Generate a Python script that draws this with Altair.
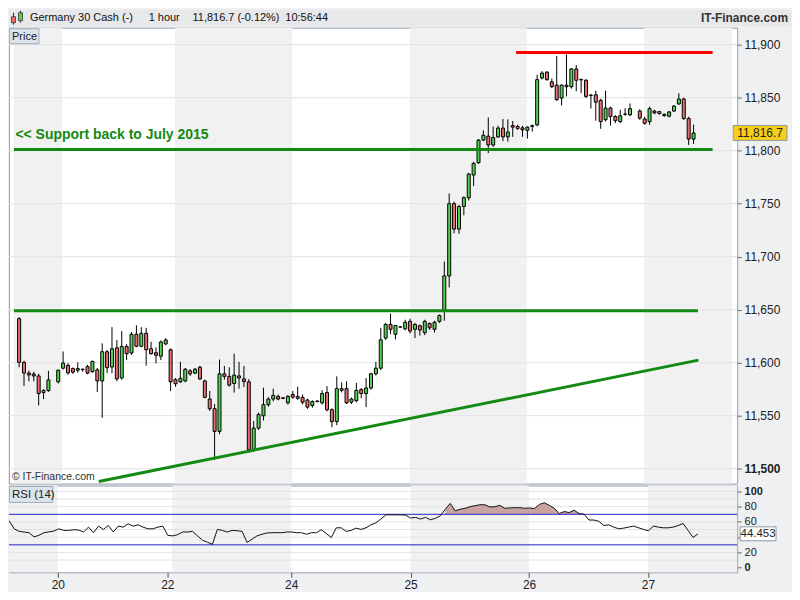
import altair as alt
import pandas as pd

# ---------------- data ----------------
# hourly candle slots; slots 7 and 126 are empty (session break)
hour_idx = [0, 1, 2, 3, 4, 5, 6] + list(range(8, 126)) + list(range(127, 139))

open_ = [
    11641.5, 11600.3, 11590.2, 11589.3, 11587.5, 11571.9, 11573.7, 11581.9, 11594.8, 11597.5,
    11594.4, 11592.9, 11593.5, 11596.3, 11591.6, 11593.2, 11582.8, 11610.3, 11595.9, 11614.0,
    11585.6, 11615.2, 11609.1, 11626.8, 11615.5, 11627.7, 11613.1, 11609.4, 11606.1, 11617.7,
    11612.2, 11584.0, 11582.0, 11582.8, 11592.3, 11590.2, 11595.7, 11582.8, 11565.7, 11556.6,
    11535.2, 11589.5, 11587.1, 11580.4, 11587.5, 11584.7, 11581.9, 11518.2, 11538.3, 11549.9,
    11560.4, 11565.7, 11568.2, 11566.4, 11562.1, 11570.0, 11568.2, 11567.3, 11564.8, 11559.6,
    11563.4, 11562.1, 11571.8, 11555.6, 11544.4, 11573.9, 11575.5, 11562.8, 11564.2, 11574.6,
    11570.9, 11576.1, 11589.5, 11594.8, 11623.2, 11636.1, 11626.8, 11633.6, 11631.9, 11639.0,
    11631.5, 11634.8, 11628.3, 11636.9, 11631.5, 11639.0, 11648.8, 11681.8, 11750.0, 11726.0,
    11747.3, 11755.6, 11777.0, 11788.6, 11810.0, 11813.7, 11805.4, 11813.0, 11821.3, 11813.0,
    11823.7, 11822.8, 11821.5, 11819.2, 11822.8, 11824.3, 11868.6, 11874.1, 11864.9, 11861.8,
    11849.6, 11861.8, 11860.3, 11877.1, 11867.2, 11866.4, 11852.0, 11852.7, 11847.5, 11829.2,
    11840.2, 11832.2, 11827.4, 11834.3, 11833.8, 11837.4, 11829.8, 11827.4, 11837.4, 11836.8,
    11833.1, 11832.5, 11837.4, 11844.1, 11848.7, 11830.4, 11810.9,
]
high_ = [
    11643.0, 11601.7, 11592.6, 11591.5, 11589.5, 11575.0, 11592.3, 11593.5, 11610.6, 11599.5,
    11595.5, 11600.3, 11594.5, 11598.0, 11602.0, 11595.0, 11618.2, 11612.0, 11633.5, 11621.3,
    11629.8, 11617.5, 11629.0, 11635.3, 11633.5, 11632.9, 11619.8, 11614.5, 11621.0, 11623.2,
    11613.5, 11585.5, 11600.8, 11595.0, 11594.0, 11595.0, 11597.0, 11584.0, 11573.3, 11561.1,
    11603.0, 11596.9, 11595.7, 11608.5, 11600.8, 11596.9, 11584.5, 11545.0, 11553.0, 11576.4,
    11567.5, 11575.5, 11570.0, 11567.5, 11569.5, 11573.3, 11577.4, 11570.0, 11566.0, 11564.5,
    11564.5, 11574.0, 11577.9, 11557.0, 11587.1, 11581.5, 11582.5, 11567.0, 11581.0, 11576.0,
    11585.5, 11590.5, 11600.8, 11632.9, 11637.5, 11646.3, 11635.5, 11634.5, 11640.5, 11641.5,
    11637.5, 11636.0, 11640.5, 11638.0, 11639.5, 11645.5, 11695.5, 11759.6, 11752.0, 11749.0,
    11757.0, 11779.0, 11789.5, 11811.0, 11819.1, 11831.3, 11822.8, 11823.5, 11829.8, 11829.5,
    11828.0, 11824.5, 11823.5, 11823.0, 11824.5, 11871.6, 11875.0, 11875.0, 11868.0, 11889.3,
    11862.5, 11890.8, 11878.0, 11880.8, 11868.0, 11867.5, 11853.5, 11856.5, 11849.0, 11856.7,
    11841.5, 11833.5, 11838.5, 11840.0, 11844.5, 11839.0, 11832.0, 11841.5, 11838.5, 11837.5,
    11835.0, 11837.5, 11843.0, 11854.2, 11850.0, 11832.0, 11824.6,
]
low_ = [
    11595.7, 11577.9, 11582.5, 11582.5, 11559.6, 11565.7, 11572.5, 11580.4, 11593.5, 11588.5,
    11589.5, 11590.5, 11591.5, 11589.0, 11590.5, 11572.4, 11548.0, 11590.2, 11590.0, 11582.5,
    11584.0, 11602.4, 11607.5, 11614.5, 11614.5, 11597.2, 11607.5, 11599.3, 11602.4, 11616.5,
    11573.3, 11577.4, 11581.0, 11581.5, 11587.5, 11589.0, 11583.5, 11566.5, 11554.5, 11508.3,
    11532.5, 11584.0, 11577.5, 11571.8, 11575.5, 11577.0, 11515.5, 11516.0, 11536.5, 11545.5,
    11558.5, 11563.5, 11564.5, 11565.5, 11560.5, 11566.0, 11565.0, 11560.5, 11556.5, 11557.5,
    11562.5, 11560.5, 11554.0, 11539.2, 11541.0, 11572.0, 11561.0, 11561.0, 11562.5, 11566.5,
    11558.1, 11574.5, 11588.0, 11593.0, 11621.5, 11626.8, 11622.0, 11633.0, 11630.5, 11627.5,
    11623.2, 11625.5, 11626.0, 11631.0, 11628.5, 11637.5, 11639.6, 11671.0, 11722.1, 11721.5,
    11739.0, 11753.0, 11766.6, 11787.5, 11809.0, 11797.7, 11803.5, 11812.0, 11809.0, 11808.5,
    11813.0, 11819.5, 11813.0, 11811.4, 11818.0, 11823.0, 11867.0, 11866.0, 11859.0, 11847.0,
    11842.6, 11851.2, 11858.5, 11856.0, 11854.2, 11849.5, 11839.8, 11828.3, 11820.6, 11827.5,
    11823.7, 11826.0, 11826.0, 11833.0, 11832.5, 11829.0, 11824.5, 11824.5, 11834.5, 11834.0,
    11832.0, 11831.5, 11836.5, 11843.0, 11829.0, 11805.4, 11806.3,
]
close_ = [
    11600.3, 11590.2, 11588.4, 11587.5, 11570.9, 11573.7, 11583.8, 11592.9, 11599.6, 11590.4,
    11591.1, 11594.4, 11593.8, 11590.2, 11601.2, 11582.8, 11610.3, 11595.3, 11613.1, 11584.7,
    11615.2, 11608.5, 11626.8, 11615.5, 11627.7, 11612.2, 11608.5, 11607.0, 11619.5, 11621.4,
    11582.0, 11580.1, 11585.2, 11593.8, 11589.5, 11593.8, 11584.7, 11567.3, 11556.6, 11535.2,
    11589.5, 11587.1, 11578.8, 11588.3, 11585.6, 11582.2, 11517.8, 11538.3, 11551.1, 11560.4,
    11565.7, 11569.1, 11565.7, 11566.8, 11568.2, 11567.5, 11566.4, 11562.7, 11558.1, 11563.3,
    11563.8, 11570.9, 11555.6, 11544.4, 11575.5, 11575.5, 11562.1, 11565.7, 11573.9, 11570.9,
    11576.1, 11589.5, 11594.8, 11621.6, 11636.1, 11631.5, 11635.1, 11633.8, 11638.1, 11629.8,
    11636.1, 11630.8, 11639.0, 11632.9, 11638.1, 11644.5, 11681.8, 11750.0, 11726.0, 11747.3,
    11755.6, 11777.9, 11788.0, 11810.0, 11814.6, 11805.4, 11812.4, 11821.3, 11813.0, 11817.6,
    11822.2, 11821.0, 11819.7, 11822.2, 11823.7, 11867.0, 11873.2, 11867.0, 11860.3, 11848.1,
    11861.8, 11860.3, 11877.1, 11866.4, 11866.8, 11851.2, 11852.4, 11845.7, 11827.4, 11840.2,
    11832.2, 11828.3, 11832.9, 11834.5, 11839.6, 11830.7, 11825.8, 11839.6, 11835.6, 11835.0,
    11834.3, 11836.5, 11842.0, 11848.7, 11830.4, 11810.9, 11816.7,
]
rsi_ = [
    51.0, 47.6, 46.8, 45.9, 40.4, 42.5, 45.9, 48.0, 51.0, 48.9,
    48.9, 49.8, 49.3, 46.8, 53.2, 45.9, 54.5, 50.2, 55.3, 46.8,
    54.5, 53.2, 57.5, 54.5, 56.2, 53.2, 51.0, 51.0, 53.2, 54.5,
    42.5, 41.7, 43.4, 46.8, 46.8, 47.6, 41.7, 36.1, 33.5, 30.6,
    50.2, 48.9, 46.8, 48.9, 48.5, 47.6, 33.1, 37.4, 41.7, 43.8,
    45.5, 45.9, 45.9, 45.9, 46.8, 46.8, 45.9, 45.9, 43.8, 45.9,
    45.9, 49.8, 44.7, 39.6, 52.3, 52.3, 47.6, 48.9, 51.9, 50.2,
    52.3, 56.2, 58.8, 63.8, 69.3, 69.3, 69.3, 69.3, 68.9, 65.1,
    65.9, 63.8, 65.9, 62.9, 64.7, 68.0, 76.6, 84.3, 74.5, 76.6,
    77.9, 80.0, 81.3, 82.5, 82.5, 79.6, 80.0, 81.7, 77.9, 78.3,
    78.7, 78.7, 77.9, 78.3, 77.5, 83.0, 85.1, 81.7, 77.9, 71.0,
    73.6, 72.3, 75.4, 71.0, 70.2, 62.5, 62.5, 60.8, 55.3, 56.2,
    53.2, 51.0, 51.9, 53.2, 54.5, 50.2, 48.5, 54.5, 53.2, 52.3,
    52.3, 53.2, 55.3, 57.9, 48.9, 39.6, 44.453,
]
assert len(hour_idx) == len(open_) == len(high_) == len(low_) == len(close_) == len(rsi_)

# RSI value at the left edge of the panel (the candle before the first visible one)
rsi_lead_idx = [-1.05]
rsi_lead_val = [61.7]

# horizontal levels drawn on the chart
level_price = [11801, 11649, 11892.5]
level_start = [-1.05, -1.05, 101.7]
level_end = [141.9, 138.9, 141.9]
level_color = ["#138a13", "#138a13", "#ff0000"]

# rising support trend line (two anchor points)
trend_idx = [16.3, 139.0]
trend_price = [11487.9, 11602.4]

annotation_text = ["<< Support back to July 2015"]
annotation_idx = [-0.75]
annotation_price = [11815]

price_ticks = [11500, 11550, 11600, 11650, 11700, 11750, 11800, 11850, 11900]
rsi_ticks = [0, 20, 40, 60, 80, 100]
rsi_grid = [10, 20, 40, 50, 60, 80, 90, 100]
rsi_levels = [30, 70]
rsi_overbought = 70

day_labels = ["20", "22", "24", "25", "26", "27"]
day_pos = [8.8, 30.9, 55.9, 80.0, 103.9, 127.9]
shade_start = [-1.05, 31.9, 80.0, 127.9]
shade_end = [8.8, 55.9, 103.9, 145.9]

last_price = 11816.7
last_price_text = "11,816.7"
last_rsi = 44.453
last_rsi_text = "44.453"

header_texts = ["Germany 30 Cash (-)", "1 hour", "11,816.7 (-0.12%)", "10:56:44"]
site_text = "IT-Finance.com"

# ---------------- styling ----------------
FONT = "Liberation Sans"
W = 730
PH = 457
RH = 87
HH = 16
GREEN = "#138a13"
UP = "#52d452"
DOWN = "#e66f6f"
BAND = "#f1f1f1"
GRID = "#e3e3e3"

xs = alt.Scale(domain=[-1.05, 145.9], nice=False, zero=False)
ps = alt.Scale(domain=[11486, 11916], nice=False, zero=False)
rs = alt.Scale(domain=[-6, 107.7], nice=False, zero=False)

df = pd.DataFrame({"k": hour_idx, "o": open_, "h": high_, "l": low_, "c": close_, "rsi": rsi_})
rsi_df = pd.concat([pd.DataFrame({"k": rsi_lead_idx, "rsi": rsi_lead_val}),
                    df[["k", "rsi"]]], ignore_index=True)
bands = pd.DataFrame({"s": shade_start, "e": shade_end})
one = pd.DataFrame({"a": [0]})


def box_shape(w, h):
    r = h / w
    return f"M-1,-{r:.4f}L1,-{r:.4f}L1,{r:.4f}L-1,{r:.4f}Z", w * w


# ---------------- header ----------------
hx = [21, 140, 184, 277]
header_df = pd.DataFrame({"t": header_texts, "x": hx})
header = alt.layer(
    alt.Chart(one).mark_rect(color="#e7e8ea").encode(
        x=alt.value(0), x2=alt.value(784), y=alt.value(0), y2=alt.value(HH)),
    # small candle icon
    alt.Chart(one).mark_rule(color="#333").encode(x=alt.value(4.5), y=alt.value(3), y2=alt.value(15)),
    alt.Chart(one).mark_rect(color=DOWN, stroke="#333", strokeWidth=0.8).encode(
        x=alt.value(2.5), x2=alt.value(6.5), y=alt.value(7), y2=alt.value(13)),
    alt.Chart(one).mark_rule(color="#333").encode(x=alt.value(11.5), y=alt.value(1), y2=alt.value(13)),
    alt.Chart(one).mark_rect(color=UP, stroke="#333", strokeWidth=0.8).encode(
        x=alt.value(9.5), x2=alt.value(13.5), y=alt.value(3), y2=alt.value(11)),
    alt.Chart(header_df).mark_text(align="left", baseline="middle", font=FONT, fontSize=11,
                                   color="#111").encode(
        x=alt.X("x:Q", scale=None), y=alt.value(HH / 2 + 0.5), text="t:N"),
    alt.Chart(one).mark_text(align="right", baseline="middle", font=FONT, fontSize=12,
                             fontWeight="bold", color="#333", text=site_text).encode(
        x=alt.value(781), y=alt.value(HH / 2 + 0.5)),
).properties(width=784, height=HH, view=alt.ViewBackground(stroke="transparent", fill="#e7e8ea"))

# ---------------- price panel ----------------
price_axis = alt.Axis(
    orient="right", values=price_ticks, format=",.0f", grid=False, domain=False,
    tickSize=4, tickColor="#666", labelFontSize=12, labelColor="#222", labelPadding=3,
    labelFont=FONT, title=None,
    labelFontWeight={"condition": {"test": "datum.value == 11500", "value": "bold"}, "value": "normal"},
)


def PY(field):
    return alt.Y(field, scale=ps, axis=price_axis)


def PX(field):
    return alt.X(field, scale=xs, axis=None)


band_price = alt.Chart(bands).mark_rect(color=BAND).encode(x=PX("s:Q"), x2="e:Q")

grid_price = alt.Chart(pd.DataFrame({"p": price_ticks})).mark_rule(color=GRID).encode(y=PY("p:Q"))

wicks = alt.Chart(df).mark_rule(color="#000", strokeWidth=1).encode(
    x=PX("k:Q"), y=PY("l:Q"), y2="h:Q")

bodies = alt.Chart(df).mark_bar(size=3, stroke="#000", strokeWidth=1).encode(
    x=PX("k:Q"), y=PY("o:Q"), y2="c:Q",
    color=alt.condition("datum.c >= datum.o", alt.value(UP), alt.value(DOWN)))

levels = alt.Chart(pd.DataFrame({"p": level_price, "s": level_start, "e": level_end,
                                 "col": level_color})).mark_rule(strokeWidth=3).encode(
    y=PY("p:Q"), x=PX("s:Q"), x2="e:Q", color=alt.Color("col:N", scale=None))

trend = alt.Chart(pd.DataFrame({"k": trend_idx, "p": trend_price})).mark_line(
    color=GREEN, strokeWidth=3, clip=True).encode(x=PX("k:Q"), y=PY("p:Q"))

annot = alt.Chart(pd.DataFrame({"k": annotation_idx, "p": annotation_price,
                                "t": annotation_text})).mark_text(
    align="left", baseline="middle", font=FONT, fontSize=14, fontWeight="bold", color=GREEN).encode(
    x=PX("k:Q"), y=PY("p:Q"), text="t:N")

price_tag = alt.Chart(one).mark_rect(fill="#dbe3eb", stroke="#a3adb8", strokeWidth=1).encode(
    x=alt.value(0.5), x2=alt.value(30), y=alt.value(1), y2=alt.value(16))
price_tag_t = alt.Chart(one).mark_text(align="left", baseline="middle", font=FONT, fontSize=11,
                                       color="#222", text="Price").encode(
    x=alt.value(3), y=alt.value(9))

copy_t = alt.Chart(one).mark_text(align="left", baseline="middle", font=FONT, fontSize=10.5,
                                  color="#333", text="\u00a9 IT-Finance.com").encode(
    x=alt.value(3), y=alt.value(PH - 7))

pshape, psize = box_shape(54, 15)
last_box = alt.Chart(pd.DataFrame({"p": [last_price]})).mark_point(
    shape=pshape, size=psize, filled=True, fill="#f5cf1c", stroke="#8f98a3", strokeWidth=1,
    opacity=1).encode(x=alt.value(W + 23), y=PY("p:Q"))
last_txt = alt.Chart(pd.DataFrame({"p": [last_price], "t": [last_price_text]})).mark_text(
    align="center", baseline="middle", font=FONT, fontSize=12, color="#222").encode(
    x=alt.value(W + 23), y=PY("p:Q"), text="t:N")

price = alt.layer(band_price, grid_price, wicks, bodies, levels, trend, annot, price_tag,
                  price_tag_t, copy_t, last_box, last_txt).properties(width=W, height=PH)

# ---------------- RSI panel ----------------
x_label_expr = "''"
for p, lab in zip(reversed(day_pos), reversed(day_labels)):
    x_label_expr = f"abs(datum.value - {p}) < 0.5 ? '{lab}' : ({x_label_expr})"

x_axis = alt.Axis(values=day_pos, labelExpr=x_label_expr, tickSize=5, tickColor="#555",
                  domain=False, grid=False, labelFontSize=12, labelColor="#222",
                  labelPadding=2, labelFont=FONT, title=None)
rsi_axis = alt.Axis(
    orient="right", values=rsi_ticks, labelExpr="datum.value == 40 ? '' : datum.label",
    grid=False, domain=False, tickSize=4, tickColor="#666", labelFontSize=11,
    labelColor="#222", labelPadding=3, labelFont=FONT, title=None,
    labelFontWeight={"condition": {"test": "datum.value == 100 || datum.value == 0",
                                   "value": "bold"}, "value": "normal"},
)


def RY(field):
    return alt.Y(field, scale=rs, axis=rsi_axis)


def RX(field):
    return alt.X(field, scale=xs, axis=x_axis)


band_rsi = alt.Chart(bands).mark_rect(color=BAND).encode(x=RX("s:Q"), x2="e:Q")
grid_rsi = alt.Chart(pd.DataFrame({"v": rsi_grid})).mark_rule(color=GRID).encode(y=RY("v:Q"))
rsi_fill = alt.Chart(rsi_df).transform_filter(f"datum.rsi >= {rsi_overbought}").mark_area(
    color="#c9a2a2", opacity=1).encode(x=RX("k:Q"), y=RY("rsi:Q"), y2=alt.datum(rsi_overbought))
rsi_lv = alt.Chart(pd.DataFrame({"v": rsi_levels})).mark_rule(color="#2323c8", strokeWidth=1).encode(
    y=RY("v:Q"))
rsi_line = alt.Chart(rsi_df).mark_line(color="#111", strokeWidth=1, clip=True).encode(
    x=RX("k:Q"), y=RY("rsi:Q"))
rsi_tag = alt.Chart(one).mark_rect(fill="#dbe3eb", stroke="#a3adb8", strokeWidth=1).encode(
    x=alt.value(0.5), x2=alt.value(44), y=alt.value(1), y2=alt.value(17))
rsi_tag_t = alt.Chart(one).mark_text(align="left", baseline="middle", font=FONT, fontSize=11.5,
                                     color="#222", text="RSI (14)").encode(
    x=alt.value(3), y=alt.value(9.5))
rshape, rsize = box_shape(36, 14)
rsi_box = alt.Chart(pd.DataFrame({"v": [last_rsi]})).mark_point(
    shape=rshape, size=rsize, filled=True, fill="white", stroke="#8f98a3", strokeWidth=1,
    opacity=1).encode(x=alt.value(W + 21), y=RY("v:Q"))
rsi_txt = alt.Chart(pd.DataFrame({"v": [last_rsi], "t": [last_rsi_text]})).mark_text(
    align="center", baseline="middle", font=FONT, fontSize=11.5, color="#222").encode(
    x=alt.value(W + 21), y=RY("v:Q"), text="t:N")

rsi = alt.layer(band_rsi, grid_rsi, rsi_fill, rsi_lv, rsi_line, rsi_tag, rsi_tag_t,
                rsi_box, rsi_txt).properties(width=W, height=RH)

chart = alt.vconcat(header, price, rsi, spacing=2, bounds="flush").properties(
    padding=0, background="#eef0f2"
).configure_view(stroke="#97a2ae", strokeWidth=1, fill="white")

chart.save("out.html", embed_options={"renderer": "svg", "actions": False})
